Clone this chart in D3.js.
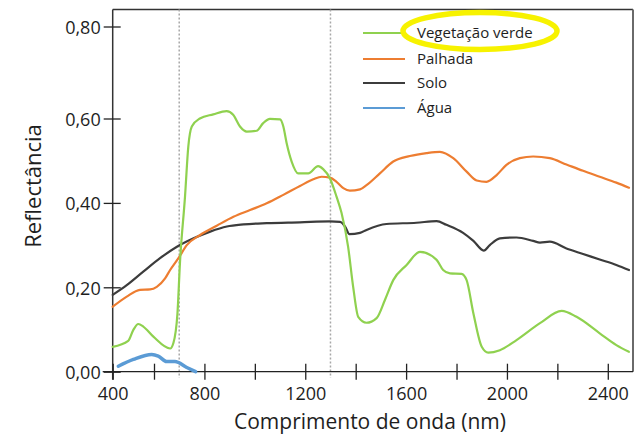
<!DOCTYPE html>
<html>
<head>
<meta charset="utf-8">
<script src="https://cdn.jsdelivr.net/npm/d3@7"></script>
<style>
  html, body { margin: 0; padding: 0; background: #fff; }
  svg { display: block; }
  text { font-family: "Open Sans", "Noto Sans", sans-serif; fill: #1e1e1e; }
</style>
</head>
<body>
<svg id="chart" width="642" height="435"></svg>
<script>
// Spectral reflectance curves (wavelength in nm, reflectance 0–1)
const vegWl  = [400, 475, 500, 524, 548, 597, 664, 677, 693, 703, 723, 736, 750, 782, 835, 888, 914, 941, 968, 1007, 1033, 1060, 1100, 1113, 1126, 1146, 1172, 1212, 1251, 1271, 1298, 1324, 1344, 1370, 1390, 1410, 1443, 1483, 1516, 1549, 1602, 1655, 1721, 1747, 1774, 1820, 1840, 1867, 1900, 1926, 1972, 2038, 2131, 2217, 2276, 2368, 2434, 2484];
const vegRef = [0.059, 0.073, 0.099, 0.113, 0.107, 0.083, 0.055, 0.068, 0.138, 0.258, 0.415, 0.533, 0.581, 0.600, 0.609, 0.616, 0.608, 0.581, 0.569, 0.571, 0.589, 0.599, 0.598, 0.581, 0.542, 0.498, 0.470, 0.470, 0.487, 0.480, 0.458, 0.415, 0.376, 0.296, 0.201, 0.130, 0.116, 0.127, 0.170, 0.217, 0.253, 0.284, 0.265, 0.241, 0.233, 0.232, 0.217, 0.138, 0.059, 0.045, 0.051, 0.075, 0.115, 0.144, 0.130, 0.091, 0.063, 0.047];

const palWl  = [400, 468, 532, 581, 611, 644, 664, 697, 730, 783, 849, 915, 981, 1047, 1113, 1179, 1232, 1265, 1298, 1324, 1351, 1377, 1417, 1443, 1496, 1549, 1615, 1681, 1734, 1787, 1840, 1880, 1919, 1959, 1998, 2051, 2104, 2170, 2236, 2302, 2368, 2434, 2484];
const palRef = [0.154, 0.178, 0.194, 0.195, 0.201, 0.221, 0.241, 0.269, 0.300, 0.324, 0.346, 0.367, 0.383, 0.399, 0.419, 0.440, 0.456, 0.462, 0.460, 0.450, 0.435, 0.429, 0.432, 0.442, 0.470, 0.498, 0.511, 0.518, 0.521, 0.506, 0.474, 0.453, 0.450, 0.466, 0.490, 0.506, 0.510, 0.506, 0.491, 0.476, 0.462, 0.448, 0.436];

const soloWl  = [400, 468, 548, 624, 691, 757, 823, 889, 955, 1047, 1179, 1298, 1338, 1358, 1375, 1417, 1443, 1522, 1641, 1721, 1760, 1826, 1867, 1908, 1932, 1972, 2038, 2104, 2131, 2170, 2236, 2302, 2368, 2434, 2484];
const soloRef = [0.182, 0.205, 0.237, 0.269, 0.296, 0.316, 0.332, 0.344, 0.349, 0.352, 0.354, 0.356, 0.355, 0.344, 0.326, 0.329, 0.336, 0.350, 0.353, 0.357, 0.348, 0.329, 0.310, 0.287, 0.300, 0.316, 0.318, 0.310, 0.306, 0.308, 0.292, 0.279, 0.266, 0.253, 0.241];

const aguaWl  = [427, 500, 589, 617, 650, 683, 730, 765];
const aguaRef = [0.013, 0.029, 0.041, 0.037, 0.024, 0.024, 0.010, 0.0];

const seriesNames  = ["Vegetação verde", "Palhada", "Solo", "Água"];
const seriesColors = ["#8fd14f", "#ed7d31", "#3c3c3c", "#5b9bd5"];

const xTicks = [400, 600, 800, 1000, 1200, 1400, 1600, 1800, 2000, 2200, 2400];
const xLabelTicks = [400, 800, 1200, 1600, 2000, 2400];
const yTicks = [0, 0.2, 0.4, 0.6, 0.8];
const guideWl = [700, 1300];

const svg = d3.select("#chart");

// Axis scales (the printed axis is not evenly spaced, so the domains are piecewise)
const x = d3.scaleLinear().domain([400, 600, 2500]).range([112.7, 154, 633]);
const y = d3.scaleLinear().domain([0, 0.6, 0.8, 0.835]).range([371.7, 118.5, 26.5, 9.5]);

const plotLeft = x(400), plotRight = x(2500), plotTop = y(0.835), plotBottom = y(0);

// Frame: top and right borders
svg.append("line").attr("x1", plotLeft).attr("x2", plotRight).attr("y1", plotTop).attr("y2", plotTop)
  .attr("stroke", "#333").attr("stroke-width", 1.5);
svg.append("line").attr("x1", plotRight).attr("x2", plotRight).attr("y1", plotTop).attr("y2", plotBottom)
  .attr("stroke", "#6a6a6a").attr("stroke-width", 2);

// Dotted guides at the red edge and near 1300 nm
svg.selectAll("line.guide").data(guideWl).join("line")
  .attr("class", "guide")
  .attr("x1", d => x(d)).attr("x2", d => x(d))
  .attr("y1", plotTop).attr("y2", plotBottom + 6)
  .attr("stroke", "#a8a8a8").attr("stroke-width", 1.5)
  .attr("stroke-dasharray", "2,2");

// Y axis
const yAxis = svg.append("g").attr("transform", `translate(${plotLeft},0)`)
  .call(d3.axisLeft(y).tickValues(yTicks).tickSize(8)
    .tickFormat(d => d3.format(".2f")(d).replace(".", ",")));
yAxis.select(".domain").attr("d", `M0,${plotTop}V${plotBottom + 8}`).attr("stroke", "#333").attr("stroke-width", 1.5);
yAxis.selectAll(".tick line").attr("x1", -9).attr("x2", 8).attr("stroke", "#222").attr("stroke-width", 1.3);
yAxis.selectAll(".tick text").attr("x", -12).attr("dy", "0.38em")
  .style("font-size", "18px").style("font-family", "'Open Sans', sans-serif").attr("fill", "#1e1e1e");

// X axis
const xAxis = svg.append("g").attr("transform", `translate(0,${plotBottom})`)
  .call(d3.axisBottom(x).tickValues(xTicks).tickSize(8)
    .tickFormat(d => xLabelTicks.includes(d) ? String(d) : ""));
xAxis.select(".domain").attr("d", `M${plotLeft - 10},0H${plotRight}`).attr("stroke", "#222").attr("stroke-width", 1.3);
xAxis.selectAll(".tick line").attr("y1", -8).attr("y2", 8).attr("stroke", "#222").attr("stroke-width", 1.3);
xAxis.selectAll(".tick text").attr("y", 16).attr("dy", "0.71em")
  .style("font-size", "18px").style("font-family", "'Open Sans', sans-serif").attr("fill", "#1e1e1e");

// Axis titles
svg.append("text").attr("x", 370).attr("y", 429).attr("text-anchor", "middle")
  .style("font-size", "21px").text("Comprimento de onda (nm)");
svg.append("text").attr("transform", "translate(41,186) rotate(-90)").attr("text-anchor", "middle")
  .style("font-size", "22px").text("Reflectância");

// Curves
const line = d3.line().x(d => x(d[0])).y(d => y(d[1])).curve(d3.curveMonotoneX);
const seriesData = [
  d3.zip(vegWl, vegRef),
  d3.zip(palWl, palRef),
  d3.zip(soloWl, soloRef),
  d3.zip(aguaWl, aguaRef)
];
const widths = [2.2, 2.2, 2.2, 3.5];
// draw order: soil, straw, water, then vegetation on top
[2, 1, 3, 0].forEach(i => {
  svg.append("path").datum(seriesData[i])
    .attr("d", line)
    .attr("fill", "none")
    .attr("stroke", seriesColors[i])
    .attr("stroke-width", widths[i])
    .attr("stroke-linejoin", "round")
    .attr("stroke-linecap", "round");
});

// Legend
const legendY = [33, 59, 83, 108];
const legend = svg.append("g");
seriesNames.forEach((name, i) => {
  legend.append("line").attr("x1", 363).attr("x2", 405)
    .attr("y1", legendY[i]).attr("y2", legendY[i])
    .attr("stroke", seriesColors[i]).attr("stroke-width", 2.2);
  legend.append("text").attr("x", 417).attr("y", legendY[i]).attr("dy", "0.36em")
    .style("font-size", "15px").text(name);
});

// Highlight ring around the vegetation entry
svg.append("ellipse").attr("cx", 480).attr("cy", 31).attr("rx", 77).attr("ry", 18.5)
  .attr("fill", "none").attr("stroke", "#f7f200").attr("stroke-width", 5.5);
</script>
</body>
</html>
